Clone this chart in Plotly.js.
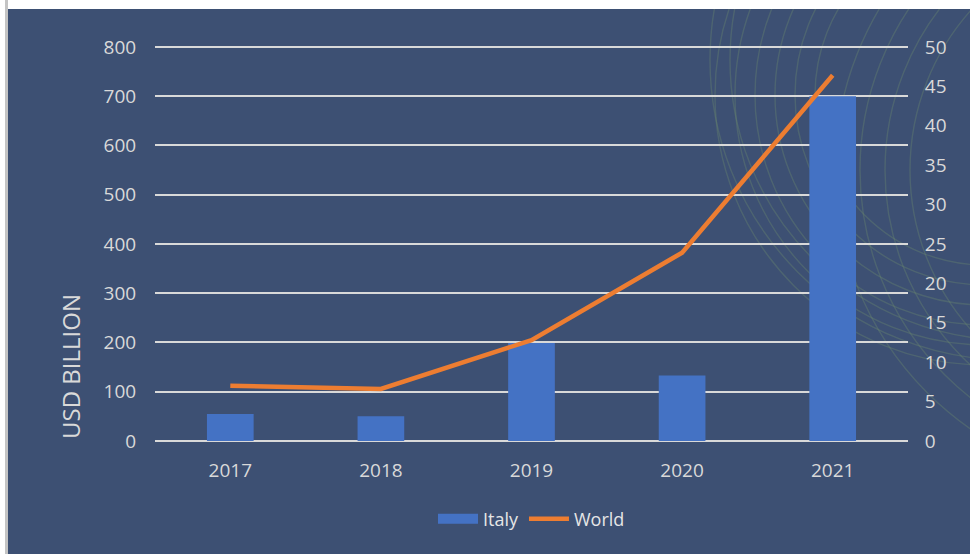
<!DOCTYPE html>
<html>
<head>
<meta charset="utf-8">
<script src="https://cdn.plot.ly/plotly-3.0.1.min.js"></script>
<style>
  html, body { margin:0; padding:0; background:#ffffff; width:970px; height:554px; overflow:hidden; }
  #edge { position:absolute; left:5px; top:0; width:3px; height:554px; background:#c4c4c4; }
  #chart { position:absolute; left:8px; top:9px; width:962px; height:545px; }
</style>
</head>
<body>
<div id="edge"></div>
<div id="chart"></div>
<script>
const years = ['2017', '2018', '2019', '2020', '2021'];
const italy = [55, 50, 199, 133, 700];
const world = [7.0, 6.6, 12.8, 23.9, 46.4];
const leftTicks = [0, 100, 200, 300, 400, 500, 600, 700, 800];
const rightTicks = [0, 5, 10, 15, 20, 25, 30, 35, 40, 45, 50];

const W = 962, H = 545;
const m = { l: 147, r: 62, t: 33, b: 113 };
const pw = W - m.l - m.r, ph = H - m.t - m.b;
// convert page pixel to paper coords (decoration only)
function px(x) { return (x - 8 - m.l) / pw; }
function py(y) { return (H - m.b - (y - 9)) / ph; }

const shapes = [];
const arcColor = 'rgba(105,135,110,0.38)';
[[985, 95, [270, 250, 230, 210, 190, 170]], [1010, 60, [300, 280]], [1150, 170, [240, 265, 290, 315]]].forEach(([cx, cy, rs]) => {
  rs.forEach(r => {
    shapes.push({ type: 'circle', xref: 'paper', yref: 'paper', layer: 'below',
      x0: px(cx - r), x1: px(cx + r), y0: py(cy + r), y1: py(cy - r),
      line: { color: arcColor, width: 1.4 } });
  });
});

const tickFont = { family: 'Open Sans, sans-serif', size: 19, color: '#d9d9d9' };

const data = [
  { type: 'bar', name: 'Italy', x: years, y: italy, yaxis: 'y',
    marker: { color: '#4472C4' }, width: 0.31, showlegend: false, legendgroup: 'italy' },
  // legend swatch only (wide rectangle like the reference)
  { type: 'scatter', mode: 'lines', name: 'Italy', x: [null], y: [null], yaxis: 'y',
    line: { color: '#4472C4', width: 12 }, legendgroup: 'italy', hoverinfo: 'skip' },
  { type: 'scatter', mode: 'lines', name: 'World', x: years, y: world, yaxis: 'y2',
    line: { color: '#ED7D31', width: 4.5 } }
];

const layout = {
  width: W, height: H,
  margin: m,
  paper_bgcolor: '#3d5073',
  plot_bgcolor: 'rgba(0,0,0,0)',
  font: { family: 'Open Sans, sans-serif', color: '#d9d9d9' },
  showlegend: true,
  legend: { orientation: 'h', x: 0.5, xanchor: 'center', y: py(519), yanchor: 'middle',
    font: { family: 'Open Sans, sans-serif', size: 18, color: '#e6e6e6' }, bgcolor: 'rgba(0,0,0,0)',
    itemwidth: 40 },
  xaxis: { type: 'category', tickfont: tickFont, showgrid: false, zeroline: false,
    showline: false, ticks: 'outside', ticklen: 12, tickcolor: 'rgba(0,0,0,0)' },
  yaxis: { range: [0, 810], tickvals: leftTicks, ticktext: leftTicks.map(String), tickfont: tickFont,
    showgrid: true, gridcolor: '#d9d9d9', gridwidth: 2, zeroline: true, zerolinecolor: '#d9d9d9', zerolinewidth: 2,
    showline: false, ticks: 'outside', ticklen: 14, tickcolor: 'rgba(0,0,0,0)' },
  yaxis2: { range: [0, 50.625], overlaying: 'y', side: 'right', tickvals: rightTicks, ticktext: rightTicks.map(String),
    tickfont: tickFont, showgrid: false, zeroline: false, showline: false,
    ticks: 'outside', ticklen: 12, tickcolor: 'rgba(0,0,0,0)' },
  annotations: [
    { text: 'USD BILLION', xref: 'paper', yref: 'paper', x: px(70), y: py(367),
      showarrow: false, textangle: -90, xanchor: 'center', yanchor: 'middle',
      font: { family: 'Open Sans, sans-serif', size: 24, color: '#d9d9d9' } }
  ],
  shapes: shapes
};

Plotly.newPlot('chart', data, layout, { displayModeBar: false, staticPlot: true });
</script>
</body>
</html>
